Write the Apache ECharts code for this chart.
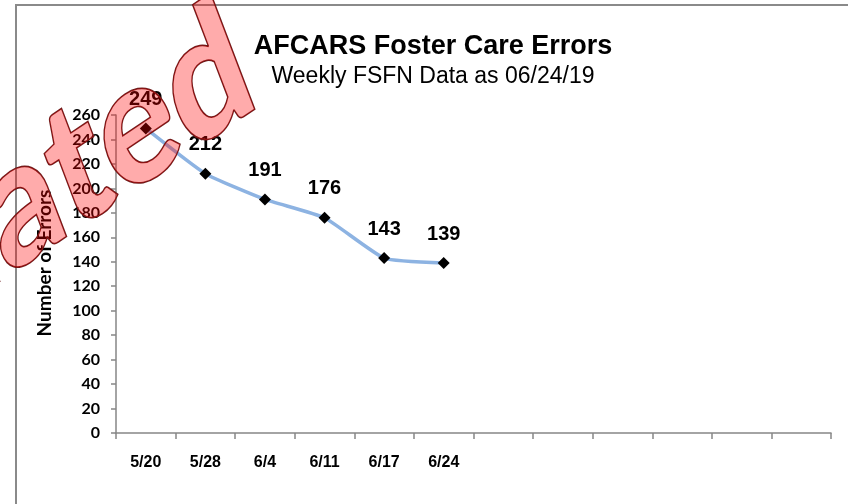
<!DOCTYPE html>
<html><head><meta charset="utf-8">
<script src="https://cdn.jsdelivr.net/npm/echarts@6/dist/echarts.min.js"></script>
<style>html,body{margin:0;padding:0;background:#fff}#c{width:848px;height:504px}</style>
</head><body><div id="c"></div>
<script>
const categories = ['5/20','5/28','6/4','6/11','6/17','6/24','','','','','',''];
const errors = [249,212,191,176,143,139];
const yMin = 0, yMax = 260, yInterval = 20;
const titleText = 'AFCARS Foster Care Errors';
const subtitleText = 'Weekly FSFN Data as 06/24/19';
const yAxisName = 'Number of Errors';
const stampText = 'Updated';

const chart = echarts.init(document.getElementById('c'), null, {renderer:'canvas'});
chart.setOption({
  backgroundColor:'#fff',
  animation:false,
  title:[
    {text:titleText, left:433, top:33, textAlign:'center', padding:0,
     textStyle:{fontFamily:'Liberation Sans, Arial, sans-serif', fontWeight:'bold', fontSize:27, color:'#000'}},
    {text:subtitleText, left:433, top:65, textAlign:'center', padding:0,
     textStyle:{fontFamily:'Liberation Sans, Arial, sans-serif', fontWeight:'normal', fontSize:23, color:'#000'}}
  ],
  grid:{left:116, right:17, top:115, bottom:71, outerBoundsMode:'none'},
  xAxis:{type:'category', data:categories, boundaryGap:true,
    axisLine:{lineStyle:{color:'#868686', width:1.5}},
    axisTick:{show:true, length:6, interval:0, lineStyle:{color:'#868686', width:1.5}},
    axisLabel:{interval:0, margin:22, fontFamily:'Liberation Sans Narrow, Arial Narrow, sans-serif', fontWeight:'bold', fontSize:16, color:'#000'},
    splitLine:{show:false}},
  yAxis:{type:'value', min:yMin, max:yMax, interval:yInterval,
    name:yAxisName, nameLocation:'middle', nameGap:62, nameRotate:90,
    nameTextStyle:{fontFamily:'Lato, sans-serif', fontWeight:'bold', fontSize:19, color:'#000', padding:[0,0,0,22]},
    axisLine:{show:true, lineStyle:{color:'#868686', width:1.5}},
    axisTick:{show:true, length:5, lineStyle:{color:'#868686', width:1.5}},
    axisLabel:{margin:16, fontFamily:'Lato, sans-serif', fontWeight:'bold', fontSize:16, color:'#000'},
    splitLine:{show:false}},
  series:[{type:'line', data:errors, smooth:0.15, symbol:'diamond', symbolSize:12,
    lineStyle:{color:'#8DB3E2', width:3.5}, itemStyle:{color:'#000'},
    label:{show:true, position:'top', distance:13, fontFamily:'Liberation Sans Narrow, Arial Narrow, sans-serif', fontWeight:'bold', fontSize:20, color:'#000'}}],
  graphic:[
    {type:'polyline', silent:true, z:50, shape:{points:[[16,504],[16,5],[848,5]]},
     style:{stroke:'#8a8a8a', lineWidth:2, fill:null}},
    {type:'text', silent:true, z:100, x:243, y:54, rotation:34*Math.PI/180, skewX:-0.23, scaleY:1.05,
     style:{text:stampText, font:'900 155px Lato, sans-serif', fontSize:155, fontWeight:900, fontFamily:'Lato, sans-serif',
       fill:'rgba(255,0,0,0.33)', stroke:'#6a1a1a', lineWidth:1.5,
       textAlign:'right', align:'right', textVerticalAlign:'middle', verticalAlign:'middle'}}
  ]
});
</script></body></html>
